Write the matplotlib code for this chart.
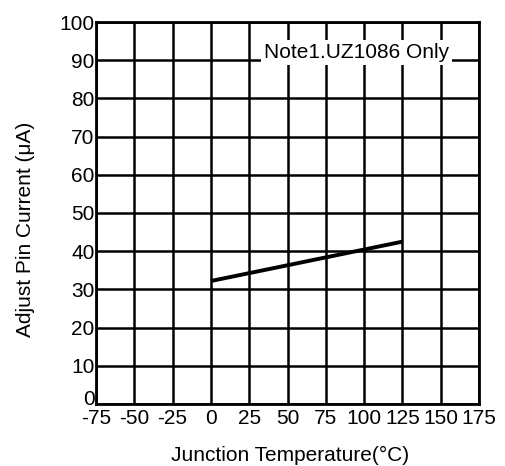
import matplotlib
matplotlib.use("Agg")
import matplotlib.pyplot as plt
import matplotlib.transforms as mtrans

plt.rcParams["font.family"] = ["Liberation Sans", "DejaVu Sans"]
plt.rcParams["axes.unicode_minus"] = False

# data
temp = [0, 125]
current = [32.2, 42.5]
xticks = [-75, -50, -25, 0, 25, 50, 75, 100, 125, 150, 175]
yticks = [0, 10, 20, 30, 40, 50, 60, 70, 80, 90, 100]

W, H = 505, 466
fig = plt.figure(figsize=(W/100, H/100), dpi=100)
ax = fig.add_axes([96/W, 1-404/H, (479-96)/W, (404-22)/H])

ax.plot(temp, current, color="black", lw=2.8, solid_capstyle="butt", zorder=3)
ax.set_xlim(-75, 175)
ax.set_ylim(0, 100)
ax.set_xticks(xticks)
ax.set_yticks(yticks)
ax.grid(True, color="black", lw=1.8)
ax.set_axisbelow(True)
for s in ax.spines.values():
    s.set_linewidth(2)
ax.tick_params(length=0, labelsize=15, colors="black")
ax.tick_params(axis="x", pad=3.5)
ax.tick_params(axis="y", pad=1)

# the "0" on the y axis sits a bit higher so it clears "-75"
zero = ax.get_yticklabels()[0]
zero.set_transform(zero.get_transform() +
                   mtrans.ScaledTranslation(0, 5/72, fig.dpi_scale_trans))

# note box hides the grid behind it
ax.text(95, 90.6, "Note1.UZ1086 Only", fontsize=15, ha="center", va="baseline",
        bbox=dict(facecolor="white", edgecolor="none", pad=2), zorder=4)

fig.text(290/W, 1-455/H, "Junction Temperature(°C)", fontsize=15,
         ha="center", va="center")
fig.text(26/W, 1-229/H, "Adjust Pin Current (μA)", fontsize=15,
         rotation=90, ha="center", va="center")

fig.savefig("out.png", dpi=100)
